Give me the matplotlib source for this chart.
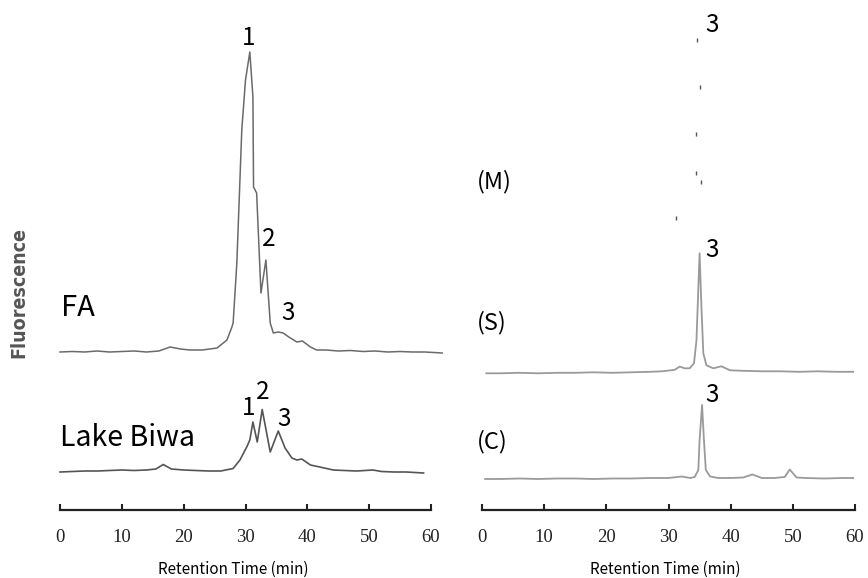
import matplotlib.pyplot as plt

W, H = 868, 578

# retention time (min) / fluorescence (arbitrary units above each baseline)
fa_t = [0, 2, 4, 6, 8, 10, 12, 14, 16, 17.8, 19.5, 21, 23, 25.4, 27, 27.8, 28.0,
        28.6, 29.4, 30.0, 30.7, 31.2, 31.3, 31.8, 32.5, 33.3, 34.0, 34.5, 35.3, 36.1,
        37.0, 38.3, 39.2, 40.5, 41.5, 43, 45, 47, 49, 51, 53, 55, 57, 59, 61.8]
fa_y = [0, 0.5, 0, 1, 0, 0.5, 1, 0, 1, 5, 3, 2, 2, 4, 12, 25, 29,
        89, 222, 272, 300, 255, 165, 159, 59, 92, 29, 19, 20, 19,
        15, 10, 11, 5, 2, 2, 1, 1.5, 0.5, 1, 0, 0.5, 0, 0, -1]

biwa_t = [0, 2, 4, 6, 8, 10, 12, 14, 15.5, 16.7, 18, 20, 22, 24, 26, 28.0, 29.1,
          30.2, 30.7, 31.2, 31.9, 32.7, 34.0, 35.3, 36.4, 37.5, 38.3, 39.1, 40.5,
          42, 44.2, 46, 48, 50.6, 52, 54, 56, 58.8]
biwa_y = [0, 0.5, 1, 1, 1.5, 2, 1.5, 2, 3, 7.5, 3, 2, 1.5, 1, 1, 3.5, 12,
          25, 32, 50, 30, 62.5, 20, 41, 24, 14, 12, 13, 7,
          5, 2, 1.5, 1, 2, 0.5, 0, 0, -1]

m_t = [34.6, 35.0, 34.4, 34.5, 35.2, 31.2]
m_y = [185, 138, 91, 52, 43, 7]

s_t = [0.7, 3, 6, 9, 12, 15, 18, 21, 24, 27, 29, 31.0, 31.8, 32.6, 33.4, 34.1,
       34.5, 35.0, 35.3, 35.6, 36.1, 37.2, 38.5, 39.9, 42, 45, 48, 51, 54, 57, 59.7]
s_y = [0, 0, 0.5, 0, 0.5, 0.5, 1, 0.5, 1, 1.5, 2, 3.5, 6.7, 5, 5, 10,
       33, 120, 66, 20, 8, 5, 7, 3, 2.5, 2, 2, 1.5, 2, 1.5, 1.5]

c_t = [0.5, 3, 6, 9, 12, 15, 18, 21, 24, 27, 30, 32.1, 33.5, 34.2, 34.8, 35.0,
       35.4, 35.7, 36.0, 36.7, 38, 40, 42, 43.5, 45, 47, 48.7, 49.5, 50.6, 52,
       55, 58, 59.7]
c_y = [0, 0, 0.5, 0, 0.5, 0.5, 0, 0.5, 0.5, 1, 1, 2.5, 1, 2, 9, 39,
       74, 39, 9, 2.5, 1, 1, 1.5, 4.5, 1, 1, 2, 9.5, 1.5, 1,
       0.5, 1, 1]

xticks = [0, 10, 20, 30, 40, 50, 60]

LABEL_FONT = ['Noto Sans CJK JP', 'DejaVu Sans']
AXIS_Y = 510  # pixel row of both time axes


def fx(x):
    return x / W


def fy(y):
    return 1 - y / H


def make_axes(fig, x0, x1):
    ax = fig.add_axes([fx(x0), fy(AXIS_Y), (x1 - x0) / W, AXIS_Y / H])
    ax.set_xlim(0, 60)
    ax.set_ylim(0, AXIS_Y)
    ax.patch.set_alpha(0)
    for side in ('top', 'left', 'right'):
        ax.spines[side].set_visible(False)
    ax.spines['bottom'].set_linewidth(1.6)
    ax.spines['bottom'].set_color('#222222')
    ax.set_yticks([])
    ax.set_xticks(xticks)
    ax.tick_params(axis='x', direction='in', length=4, width=1.5, color='#222222',
                   pad=14, labelsize=13.5, labelcolor='#222222')
    for lab in ax.get_xticklabels():
        lab.set_family(['Liberation Serif', 'DejaVu Serif'])
    return ax


def trace(ax, t, y, base, color, lw):
    ax.plot(t, [v + base for v in y], color=color, lw=lw, clip_on=False)


def label(fig, x, y, s, size, ha='left'):
    fig.text(fx(x), fy(y), s, ha=ha, va='center', fontsize=size,
             family=LABEL_FONT, color='black')


fig = plt.figure(figsize=(W / 100, H / 100), dpi=100)

# left panel: FA and Lake Biwa
axl = make_axes(fig, 60, 431)
trace(axl, fa_t, fa_y, AXIS_Y - 352, '#6a6a6a', 1.1)
trace(axl, biwa_t, biwa_y, AXIS_Y - 472, '#555555', 1.2)

# right panel: (M), (S), (C)
axr = make_axes(fig, 482, 855)
axr.plot(m_t, [v + AXIS_Y - 225 for v in m_y], ls='none', marker='|',
         ms=2.5, mew=1, color='#555555')
trace(axr, s_t, s_y, AXIS_Y - 373.3, '#9a9a9a', 1.3)
trace(axr, c_t, c_y, AXIS_Y - 479, '#9a9a9a', 1.3)

label(fig, 61, 308, 'FA', 21)
label(fig, 60, 438, 'Lake Biwa', 20.5)
label(fig, 477, 182, '(M)', 17)
label(fig, 477, 323, '(S)', 17)
label(fig, 477, 442, '(C)', 17)

for x, y, s in [(249, 38, '1'), (269, 239, '2'), (288, 313, '3'),
                (249, 408, '1'), (263, 392, '2'), (284, 419, '3'),
                (712, 25, '3'), (712, 250, '3'), (712, 395, '3')]:
    label(fig, x, y, s, 17.5, ha='center')

for x in (233, 665):
    fig.text(fx(x), fy(569), 'Retention Time (min)', ha='center', va='center',
             fontsize=11, family=LABEL_FONT, color='black')

fig.text(fx(19), fy(293), 'Fluorescence', rotation=90, ha='center', va='center',
         fontsize=14, fontweight='bold', fontstretch='condensed',
         family=['Liberation Sans Narrow', 'DejaVu Sans'], color='#555555')

fig.savefig('out.png', dpi=100)
